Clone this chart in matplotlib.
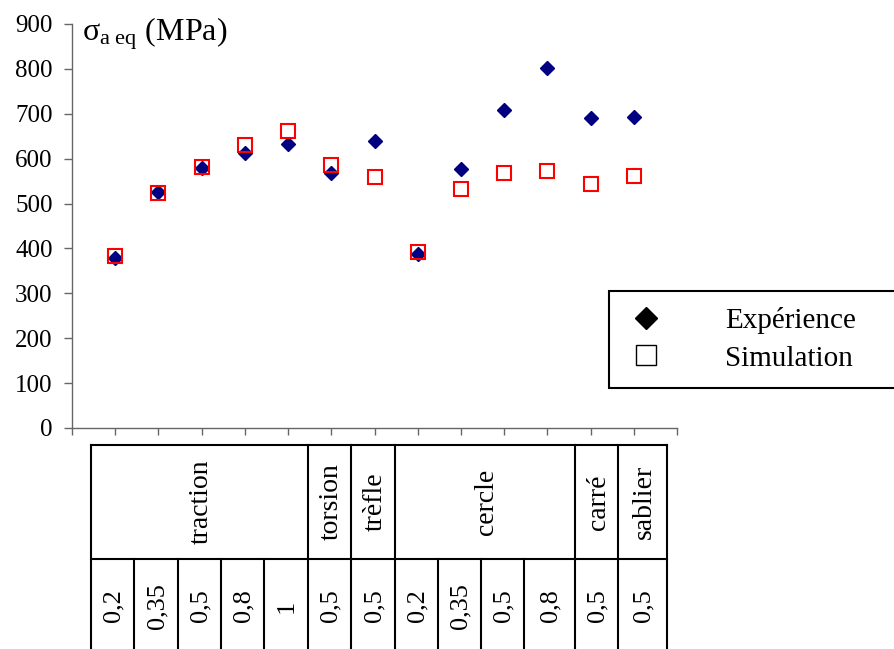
import numpy as np
import matplotlib
matplotlib.use('Agg')
import matplotlib.pyplot as plt
from matplotlib.lines import Line2D

plt.rcParams['font.family'] = ['Liberation Serif', 'DejaVu Serif']
plt.rcParams['mathtext.fontset'] = 'custom'
plt.rcParams['mathtext.rm'] = 'Liberation Serif'
plt.rcParams['mathtext.it'] = 'Liberation Serif'

# données
positions = np.arange(1, 14)
experience = [378, 526, 580, 612, 633, 568, 639, 388, 576, 708, 801, 691, 693]
simulation = [384, 523, 582, 630, 661, 585, 559, 392, 532, 569, 572, 543, 561]
groups = ['traction', 'torsion', 'trèfle', 'cercle', 'carré', 'sablier']
group_sizes = [5, 1, 1, 4, 1, 1]
ratios = ['0,2', '0,35', '0,5', '0,8', '1', '0,5', '0,5',
          '0,2', '0,35', '0,5', '0,8', '0,5', '0,5']
yticks = np.arange(0, 901, 100)

W, H = 895, 649
fig = plt.figure(figsize=(W / 100, H / 100), dpi=100)

# tableau sous le graphe (mise en page en pixels)
col_edges = [91, 134, 178, 221, 264, 308, 351, 395, 438, 481, 524, 575, 618, 667]
t_top, t_mid, t_bot = 445, 559, 660

tab = fig.add_axes([0, 0, 1, 1])
tab.set_xlim(0, W)
tab.set_ylim(H, 0)
tab.axis('off')
tab.patch.set_alpha(0)
lw_t = 1.5
tab.plot([col_edges[0], col_edges[-1]], [t_top, t_top], color='black', lw=lw_t, solid_capstyle='projecting')
tab.plot([col_edges[0], col_edges[-1]], [t_mid, t_mid], color='black', lw=lw_t)
# lignes verticales des groupes
idx = 0
g_bounds = [0]
for n in group_sizes:
    idx += n
    g_bounds.append(idx)
for i, e in enumerate(col_edges):
    y0 = t_top if i in g_bounds else t_mid
    tab.plot([e, e], [y0, t_bot], color='black', lw=lw_t)
for g, a, b in zip(groups, g_bounds[:-1], g_bounds[1:]):
    xc = (col_edges[a] + col_edges[b]) / 2
    tab.text(xc + 2, (t_top + t_mid) / 2, g, rotation=90, ha='center', va='center', fontsize=20)
for i, r in enumerate(ratios):
    xc = (col_edges[i] + col_edges[i + 1]) / 2
    tab.text(xc + 1, 606, r, rotation=90, ha='center', va='center', fontsize=19)

# graphe principal
ax = fig.add_axes([72 / W, 1 - 428 / H, (677 - 72) / W, (428 - 24) / H])
ax.plot(positions, experience, linestyle='none', marker='D', ms=7,
        color='#000080', mec='#000080', zorder=3)
ax.plot(positions, simulation, linestyle='none', marker='s', ms=10,
        mfc='none', mec='#ff0000', mew=1.5, zorder=4)

ax.set_xlim(0, 14)
ax.set_ylim(0, 900)
ax.set_xticks(np.arange(0, 15))
ax.set_xticklabels([])
ax.set_yticks(yticks)
ax.set_yticklabels([str(v) for v in yticks], fontsize=18)
for s in ['top', 'right']:
    ax.spines[s].set_visible(False)
for s in ['left', 'bottom']:
    ax.spines[s].set_color('#666666')
    ax.spines[s].set_linewidth(1)
ax.tick_params(axis='y', direction='out', length=6, width=1, color='#666666', pad=8)
ax.tick_params(axis='x', direction='out', length=5, width=1, color='#666666')

ax.text(0.016, 0.958, r'$\sigma_{\mathrm{a\ eq}}$ (MPa)', transform=ax.transAxes,
        fontsize=23, ha='left', va='baseline')

handles = [Line2D([], [], linestyle='none', marker='D', ms=11, color='black'),
           Line2D([], [], linestyle='none', marker='s', ms=15, mfc='white',
                  mec='black', mew=1)]
leg = ax.legend(handles, ['Expérience', 'Simulation'], loc='upper left',
                bbox_to_anchor=(609 / W, 0, 0.5, 1 - 291 / H),
                bbox_transform=fig.transFigure, mode='expand', borderaxespad=0,
                fontsize=21, borderpad=0.55, handlelength=1.43, handletextpad=2.0,
                labelspacing=0.38, fancybox=False, framealpha=1, edgecolor='black')
leg.get_frame().set_linewidth(1.5)

plt.savefig('out.png', dpi=100)
